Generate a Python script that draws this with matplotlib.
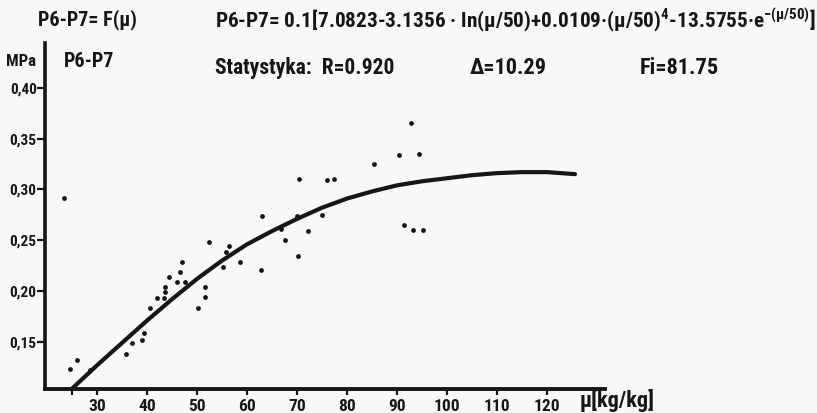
import matplotlib
matplotlib.use("Agg")
import matplotlib.pyplot as plt
from matplotlib import font_manager

# ---------------- data ----------------
# fitted curve
curve_mu = [25, 30, 35, 40, 45, 50, 55, 60, 65, 70, 75, 80, 85, 90, 95,
            100, 105, 110, 115, 120, 125.6]
curve_p = [0.104, 0.127, 0.149, 0.171, 0.192, 0.212, 0.230, 0.246, 0.259,
           0.271, 0.282, 0.291, 0.298, 0.304, 0.308, 0.311, 0.314, 0.316,
           0.317, 0.317, 0.315]

# measured points
pts_mu = [23.4, 24.7, 26.0, 28.6, 35.8, 37.0, 38.9, 39.3, 40.6, 41.9, 43.3,
          43.5, 43.6, 44.3, 45.9, 46.5, 46.9, 47.5, 50.1, 51.5, 51.5, 52.4,
          55.2, 55.7, 56.3, 58.5, 62.7, 62.9, 66.7, 67.6, 70.2, 69.9, 72.1,
          75.0, 70.3, 75.9, 77.4, 85.3, 90.3, 92.7, 94.3, 91.4, 93.1, 95.1]
pts_p = [0.292, 0.123, 0.132, 0.122, 0.138, 0.149, 0.152, 0.159, 0.183,
         0.193, 0.193, 0.199, 0.204, 0.214, 0.209, 0.219, 0.229, 0.209,
         0.183, 0.194, 0.204, 0.248, 0.224, 0.238, 0.244, 0.229, 0.221,
         0.274, 0.261, 0.250, 0.235, 0.274, 0.259, 0.275, 0.310, 0.309,
         0.310, 0.325, 0.334, 0.365, 0.335, 0.265, 0.260, 0.260]

x_ticks = [30, 40, 50, 60, 70, 80, 90, 100, 110, 120]
x_tick_labels = ["30", "40", "50", "60", "70", "80", "90", "100", "110", "120"]
y_ticks = [0.15, 0.20, 0.25, 0.30, 0.35, 0.40]
y_tick_labels = ["0,15", "0,20", "0,25", "0,30", "0,35", "0,40"]

# ---------------- font ----------------
names = {f.name for f in font_manager.fontManager.ttflist}
narrow = None
for cand in ["Liberation Sans Narrow", "Roboto Condensed", "Open Sans Condensed"]:
    if cand in names:
        narrow = cand
        break
if narrow is None:
    narrow = "Liberation Sans"
FAM = [narrow, "DejaVu Sans"]
plt.rcParams['font.family'] = FAM
plt.rcParams['mathtext.fontset'] = 'custom'
plt.rcParams['mathtext.rm'] = narrow + ':bold'
plt.rcParams['mathtext.it'] = narrow + ':bold'
plt.rcParams['mathtext.bf'] = narrow + ':bold'

INK = "#161616"
BG = "#f8f8f6"

W, H = 817, 413
fig = plt.figure(figsize=(W / 100, H / 100), dpi=100, facecolor=BG)

def fx(px):
    return px / W

def fy(py):
    return 1 - py / H

ax = fig.add_axes([fx(45), fy(389), fx(605) - fx(45), fy(43) - fy(389)])
ax.set_facecolor(BG)
ax.set_xlim(19.6, 131.6)
ax.set_ylim(0.1037, 0.444)

ax.plot(curve_mu, curve_p, color=INK, lw=3.0, solid_capstyle='round', zorder=3)
ax.scatter(pts_mu, pts_p, s=12, color=INK, zorder=4, linewidths=0)

for s in ["top", "right"]:
    ax.spines[s].set_visible(False)
ax.spines["left"].set_linewidth(2.6)
ax.spines["bottom"].set_linewidth(2.8)
ax.spines["left"].set_color(INK)
ax.spines["bottom"].set_color(INK)

ax.set_xticks([25] + x_ticks)
ax.set_xticklabels([""] + x_tick_labels)
ax.set_yticks(y_ticks)
ax.set_yticklabels(y_tick_labels)
ax.tick_params(axis='y', direction='out', length=6, width=1.6, colors=INK,
               labelsize=11, pad=0)
ax.tick_params(axis='x', direction='out', length=4, width=1.6, colors=INK,
               labelsize=12.5, pad=3)
for lab in ax.get_xticklabels() + ax.get_yticklabels():
    lab.set_fontweight('bold')

tk = dict(color=INK, fontweight='bold', family=FAM)
fig.text(fx(580), fy(407), "μ[kg/kg]", fontsize=16, ha='left', va='baseline', **tk)
fig.text(fx(6), fy(66), "MPa", fontsize=12, ha='left', va='baseline', **tk)
fig.text(fx(64), fy(67), "P6-P7", fontsize=14.5, ha='left', va='baseline', **tk)
fig.text(fx(38), fy(25), "P6-P7= F(μ)", fontsize=14.5, ha='left', va='baseline', **tk)
fig.text(fx(215), fy(27),
         r"P6-P7= 0.1[7.0823-3.1356 · ln(μ/50)+0.0109·(μ/50)$^{4}$-13.5755·e$^{-(μ/50)}$]",
         fontsize=15.3, ha='left', va='baseline', **tk)
fig.text(fx(215), fy(74), "Statystyka:  R=0.920", fontsize=15.5, ha='left', va='baseline', **tk)
fig.text(fx(470), fy(74), "Δ=10.29", fontsize=16, ha='left', va='baseline', **tk)
fig.text(fx(640), fy(74), "Fi=81.75", fontsize=16, ha='left', va='baseline', **tk)

fig.savefig("out.png", dpi=100, facecolor=BG)
